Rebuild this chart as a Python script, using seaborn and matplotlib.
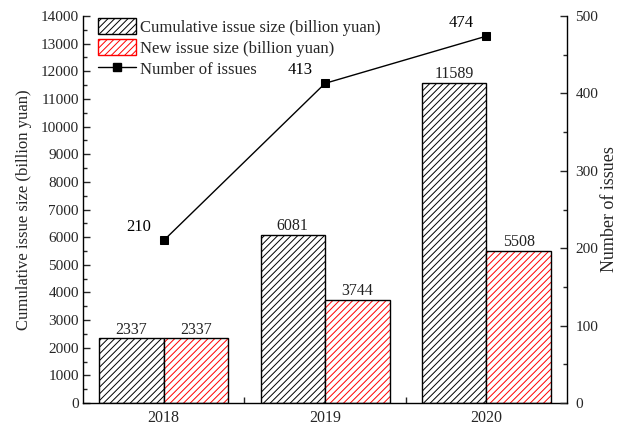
import numpy as np
import pandas as pd
import matplotlib
matplotlib.use("Agg")
import matplotlib.pyplot as plt
from matplotlib.patches import Rectangle, Patch
from matplotlib.lines import Line2D
from matplotlib.ticker import MultipleLocator, FixedLocator
import seaborn as sns

years = ["2018", "2019", "2020"]
cumulative = [2337, 6081, 11589]
new_issue = [2337, 3744, 5508]
num_issues = [210, 413, 474]

lbl_cum = "Cumulative issue size (billion yuan)"
lbl_new = "New issue size (billion yuan)"
lbl_num = "Number of issues"

sns.set_theme(style="white")
plt.rcParams["font.family"] = ["Liberation Serif", "DejaVu Serif"]
plt.rcParams["hatch.linewidth"] = 0.7

df = pd.DataFrame({
    "year": years * 2,
    "value": cumulative + new_issue,
    "series": [lbl_cum] * 3 + [lbl_new] * 3,
})

fig = plt.figure(figsize=(6.21, 4.28), dpi=100)
ax = fig.add_axes([0.1337, 0.0584, 0.7795, 0.9042])

sns.barplot(data=df, x="year", y="value", hue="series", ax=ax,
            palette=["white", "white"], edgecolor="black", linewidth=1.0,
            width=0.8, gap=0, legend=False, errorbar=None, saturation=1)

bars = [p for p in ax.patches if isinstance(p, Rectangle)]
n = len(years)
for i, p in enumerate(bars[:2 * n]):
    p.set_hatch("/////")
    if i < n:
        p.set_edgecolor("black")
    else:
        # red hatching with a black outline drawn on top
        p.set_edgecolor("red")
        p.set_linewidth(0)
        outline = Rectangle(p.get_xy(), p.get_width(), p.get_height(),
                            fill=False, edgecolor="black", linewidth=1.0,
                            zorder=p.get_zorder() + 0.1)
        ax.add_patch(outline)

# value labels above bars
for i, p in enumerate(bars[:2 * n]):
    val = (cumulative + new_issue)[i]
    ax.annotate(f"{val}", (p.get_x() + p.get_width() / 2, val),
                xytext=(0, 0.5), textcoords="offset points",
                ha="center", va="bottom", fontsize=11.5, color="#222222")

ax.set_xlim(-0.5, 2.5)
ax.set_ylim(0, 14000)
ax.yaxis.set_major_locator(MultipleLocator(1000))
ax.yaxis.set_minor_locator(MultipleLocator(500))
ax.set_xlabel("")
ax.set_ylabel(lbl_cum, fontsize=12, labelpad=6)
ax.set_xticks(range(n))
ax.set_xticklabels(years, fontsize=11.5)
ax.xaxis.set_minor_locator(FixedLocator([0.5, 1.5]))
ax.tick_params(axis="x", which="major", length=0, pad=5)
ax.tick_params(axis="x", which="minor", direction="in", length=4, width=1, bottom=True)
ax.tick_params(axis="y", which="major", direction="in", length=5, width=1, left=True, labelsize=11, pad=3)
ax.tick_params(axis="y", which="minor", direction="in", length=3, width=1, left=True)
for s in ["left", "bottom"]:
    ax.spines[s].set_color("black")
    ax.spines[s].set_linewidth(1.0)
ax.spines["top"].set_visible(False)
ax.spines["right"].set_visible(False)

ax2 = ax.twinx()
line_df = pd.DataFrame({"x": np.arange(n), "count": num_issues})
sns.lineplot(data=line_df, x="x", y="count", ax=ax2, color="black",
             linewidth=1.0, marker="s", markersize=5.5, markeredgecolor="black")
for xi, v in zip(range(n), num_issues):
    ax2.annotate(f"{v}", (xi, v), xytext=(-18, 9.5), textcoords="offset points",
                 ha="center", va="center", fontsize=12, color="black")
ax2.set_ylim(0, 500)
ax2.set_xlim(-0.5, 2.5)
ax2.yaxis.set_major_locator(MultipleLocator(100))
ax2.yaxis.set_minor_locator(MultipleLocator(50))
ax2.set_xlabel("")
ax2.set_ylabel(lbl_num, fontsize=13, labelpad=2)
ax2.tick_params(axis="y", which="major", direction="in", length=5, width=1, right=True, labelsize=11, pad=6)
ax2.tick_params(axis="y", which="minor", direction="in", length=3, width=1, right=True)
for s in ["top", "left", "bottom"]:
    ax2.spines[s].set_visible(False)
ax2.spines["right"].set_color("black")
ax2.spines["right"].set_linewidth(1.0)

handles = [
    Patch(facecolor="white", edgecolor="black", hatch="/////", linewidth=1.0),
    Patch(facecolor="white", edgecolor="red", hatch="/////", linewidth=1.0),
    Line2D([0], [0], color="black", linewidth=1.0, marker="s", markersize=5.5),
]
leg = ax2.legend(handles, [lbl_cum, lbl_new, lbl_num], loc="upper left",
                 bbox_to_anchor=(0.01, 1.02), frameon=False, fontsize=12,
                 handlelength=2.3, handleheight=1.1, handletextpad=0.2,
                 labelspacing=0.2, borderaxespad=0.2)

fig.savefig("out.png", dpi=100)
